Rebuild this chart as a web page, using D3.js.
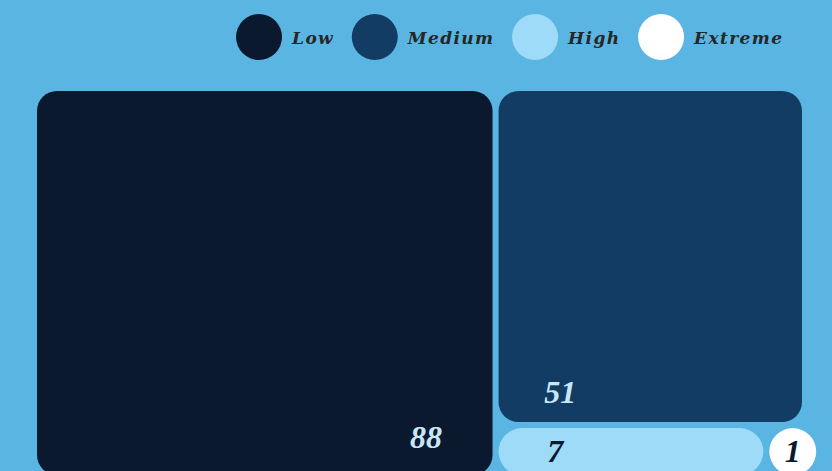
<!DOCTYPE html>
<html>
<head>
<meta charset="utf-8">
<script src="https://cdn.jsdelivr.net/npm/d3@7"></script>
<style>
  html, body { margin: 0; padding: 0; background: #5ab5e2; overflow: hidden; }
  svg { display: block; }
</style>
</head>
<body>
<svg id="chart" width="832" height="471"></svg>
<script>
// Risk levels and their counts
const categories = ["Low", "Medium", "High", "Extreme"];
const values = [88, 51, 7, 1];
const fills = ["#0a192e", "#133c64", "#9ddbf8", "#ffffff"];
const labelInk = ["#c9e6f6", "#c9e6f6", "#0a192e", "#0a192e"];

const W = 832, H = 471;
const svg = d3.select("#chart");

svg.append("rect").attr("width", W).attr("height", H).attr("fill", "#5ab5e2");

// ---- Treemap -------------------------------------------------------------
const plot = { left: 37, top: 91, width: 765, height: 384 };

const root = d3.hierarchy({ children: categories.map((c, i) => ({ name: c, value: values[i], idx: i })) })
  .sum(d => d.value || 0);

d3.treemap()
  .size([plot.width, plot.height])
  .paddingInner(6)
  .tile(d3.treemapSquarify)(root);

const leaves = root.leaves().map(n => {
  let x0 = n.x0, x1 = n.x1;
  const h = n.y1 - n.y0;
  // very narrow small cells are widened into a round badge
  if (x1 - x0 < h && h < 60) x1 = x0 + h;
  return { d: n.data, x0, x1, y0: n.y0, y1: n.y1 };
});

const g = svg.append("g").attr("transform", `translate(${plot.left},${plot.top})`);

g.selectAll("rect.cell")
  .data(leaves)
  .join("rect")
  .attr("class", "cell")
  .attr("x", c => c.x0)
  .attr("y", c => c.y0)
  .attr("width", c => c.x1 - c.x0)
  .attr("height", c => c.y1 - c.y0)
  .attr("rx", c => {
    const m = Math.min(c.x1 - c.x0, c.y1 - c.y0);
    return m < 60 ? m / 2 : 20;
  })
  .attr("fill", c => fills[c.d.idx]);

// label placement inside each cell
const labelSpot = {
  Low: { fx: 0.854, fromBottom: 27 },
  Medium: { fx: 0.203, fromBottom: 19 },
  High: { fx: 0.214, middle: true },
  Extreme: { fx: 0.5, middle: true }
};

g.selectAll("text.val")
  .data(leaves)
  .join("text")
  .attr("class", "val")
  .attr("x", c => c.x0 + (c.x1 - c.x0) * labelSpot[c.d.name].fx)
  .attr("y", c => {
    const s = labelSpot[c.d.name];
    return s.middle ? (c.y0 + c.y1) / 2 + 10 : c.y1 - s.fromBottom;
  })
  .attr("text-anchor", "middle")
  .attr("font-family", "'Liberation Serif', serif")
  .attr("font-style", "italic")
  .attr("font-weight", "bold")
  .attr("font-size", 32)
  .attr("fill", c => labelInk[c.d.idx])
  .text(c => c.d.value);

// ---- Legend --------------------------------------------------------------
const legend = svg.append("g");
const r = 23, gapText = 10, gapItem = 19, legendRight = 782, legendCy = 37, spacing = 1.4;

const items = legend.selectAll("g.item")
  .data(categories)
  .join("g")
  .attr("class", "item");

items.append("circle")
  .attr("r", r)
  .attr("cx", r)
  .attr("cy", legendCy)
  .attr("fill", (d, i) => fills[i]);

items.append("text")
  .attr("x", 2 * r + gapText)
  .attr("y", legendCy + 7)
  .attr("font-family", "'DejaVu Serif', serif")
  .attr("font-style", "italic")
  .attr("font-weight", "bold")
  .attr("font-size", 17)
  .attr("letter-spacing", spacing)
  .attr("fill", "#262626")
  .text(d => d);

// flow items left to right, right-aligned
const widths = [];
items.each(function () {
  const t = d3.select(this).select("text").node();
  widths.push(2 * r + gapText + t.getComputedTextLength() - spacing);
});
const total = d3.sum(widths) + gapItem * (widths.length - 1);
let cursor = legendRight - total;
items.attr("transform", (d, i) => {
  const x = cursor;
  cursor += widths[i] + gapItem;
  return `translate(${x},0)`;
});
</script>
</body>
</html>
